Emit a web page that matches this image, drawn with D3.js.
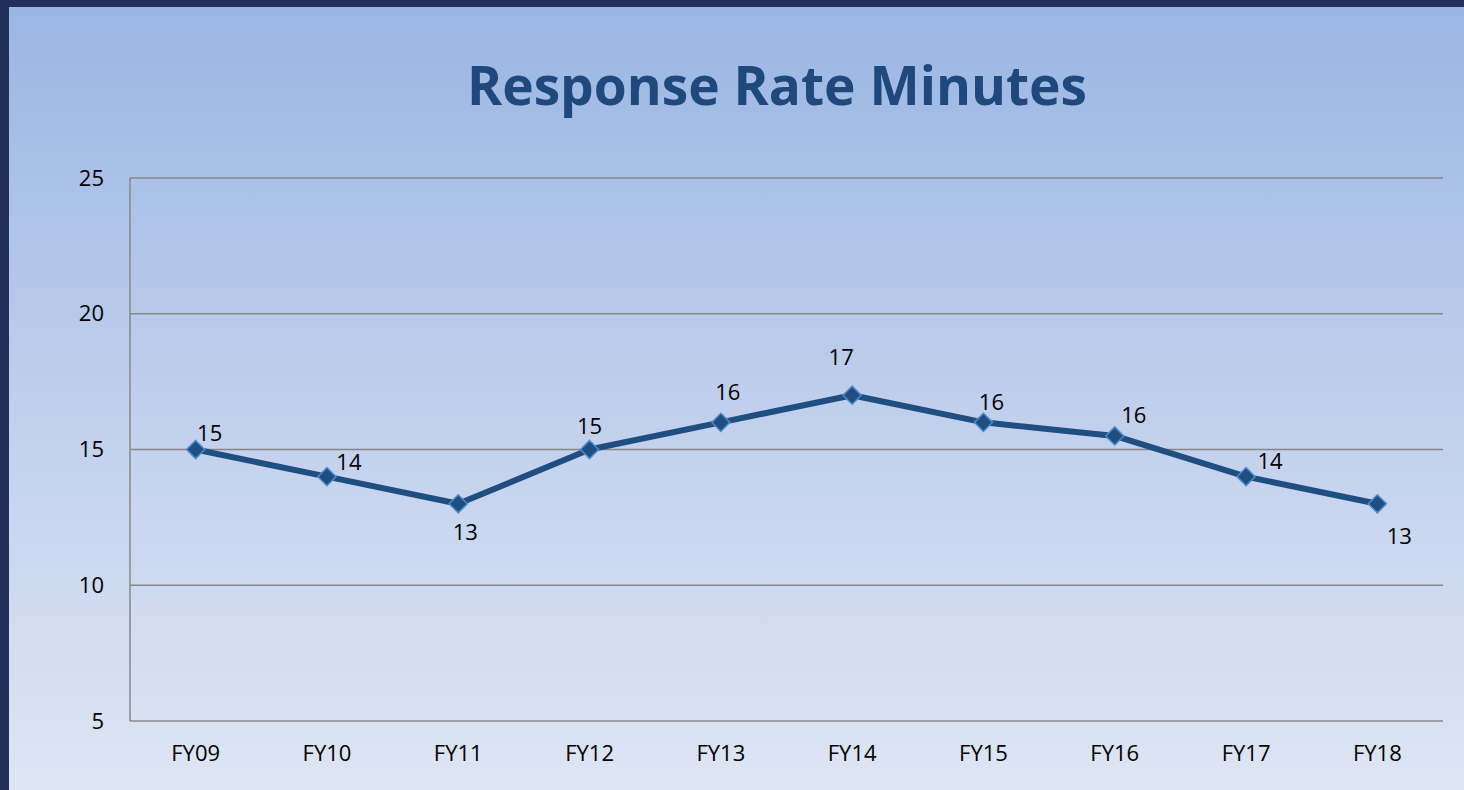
<!DOCTYPE html>
<html>
<head>
<meta charset="utf-8">
<script src="https://cdn.jsdelivr.net/npm/d3@7"></script>
<style>
  html, body { margin: 0; padding: 0; background: #24305a; }
  svg { display: block; }
</style>
</head>
<body>
<svg id="chart" width="1464" height="790"></svg>
<script>
// ---- data ----
const categories = ["FY09", "FY10", "FY11", "FY12", "FY13", "FY14", "FY15", "FY16", "FY17", "FY18"];
const values     = [15, 14, 13, 15, 16, 17, 16, 15.5, 14, 13];
const labels     = ["15", "14", "13", "15", "16", "17", "16", "16", "14", "13"];
const yTicks     = [5, 10, 15, 20, 25];
const title      = "Response Rate Minutes";

// label placement offsets (dx, dy) from each point
const labelOffsets = [[14,-9],[22,-7],[7,36],[0,-16],[7,-22],[-11,-30],[8,-12],[19,-13],[24,-8],[22,40]];

const W = 1464, H = 790;
const svg = d3.select("#chart");
const defs = svg.append("defs");
const grad = defs.append("linearGradient").attr("id","bg").attr("x1",0).attr("y1",0).attr("x2",0).attr("y2",1);
grad.append("stop").attr("offset","0%").attr("stop-color","#9ab6e3");
grad.append("stop").attr("offset","55%").attr("stop-color","#c3d1ed");
grad.append("stop").attr("offset","100%").attr("stop-color","#dee6f4");

// dark frame
svg.append("rect").attr("x",0).attr("y",0).attr("width",W).attr("height",H).attr("fill","#24305a");
svg.append("rect").attr("x",9).attr("y",7).attr("width",W-9).attr("height",H-7).attr("fill","url(#bg)");

const plot = {left:130, right:1443, top:178, bottom:721};

const x = d3.scaleBand().domain(categories).range([plot.left, plot.right]);
const y = d3.scaleLinear().domain([5, 25]).range([plot.bottom, plot.top]);

// title
svg.append("text")
  .attr("x", 777).attr("y", 105)
  .attr("text-anchor","middle")
  .attr("font-family","'Open Sans', sans-serif")
  .attr("font-weight","bold")
  .attr("font-size", 54)
  .attr("fill","#1f497d")
  .attr("textLength", 620)
  .attr("lengthAdjust","spacingAndGlyphs")
  .text(title);

// gridlines
svg.append("g").selectAll("line").data(yTicks).join("line")
  .attr("x1", plot.left).attr("x2", plot.right)
  .attr("y1", d => y(d)).attr("y2", d => y(d))
  .attr("stroke","#878787").attr("stroke-width",1.5);

// left axis line
svg.append("line")
  .attr("x1", plot.left).attr("x2", plot.left)
  .attr("y1", plot.top).attr("y2", plot.bottom)
  .attr("stroke","#878787").attr("stroke-width",1.5);

// y axis labels
const yAxis = d3.axisLeft(y).tickValues(yTicks).tickSize(0).tickPadding(26).tickFormat(d3.format("d"));
const yg = svg.append("g").attr("transform",`translate(${plot.left},0)`).call(yAxis);
yg.select(".domain").remove();
yg.selectAll("text")
  .attr("font-family","'Open Sans', sans-serif").attr("font-size",22).attr("fill","#000");

// x axis labels
const xAxis = d3.axisBottom(x).tickSize(0).tickPadding(24);
const xg = svg.append("g").attr("transform",`translate(0,${plot.bottom})`).call(xAxis);
xg.select(".domain").remove();
xg.selectAll("text")
  .attr("font-family","'Open Sans', sans-serif").attr("font-size",22).attr("fill","#000");

// line
const pts = categories.map((c,i) => ({c, v: values[i], label: labels[i], off: labelOffsets[i]}));
const line = d3.line().x(d => x(d.c) + x.bandwidth()/2).y(d => y(d.v));
svg.append("path").datum(pts)
  .attr("d", line)
  .attr("fill","none")
  .attr("stroke","#1f4e80")
  .attr("stroke-width",6)
  .attr("stroke-linejoin","round");

// markers
const sym = d3.symbol().type(d3.symbolDiamond2).size(210);
svg.append("g").selectAll("path").data(pts).join("path")
  .attr("transform", d => `translate(${x(d.c) + x.bandwidth()/2},${y(d.v)})`)
  .attr("d", sym)
  .attr("fill","#1f4e80")
  .attr("stroke","#4f8ac9")
  .attr("stroke-width",1.5);

// data labels
svg.append("g").selectAll("text").data(pts).join("text")
  .attr("x", d => x(d.c) + x.bandwidth()/2 + d.off[0])
  .attr("y", d => y(d.v) + d.off[1])
  .attr("text-anchor","middle")
  .attr("font-family","'Open Sans', sans-serif")
  .attr("font-size",22)
  .attr("fill","#000")
  .text(d => d.label);
</script>
</body>
</html>
